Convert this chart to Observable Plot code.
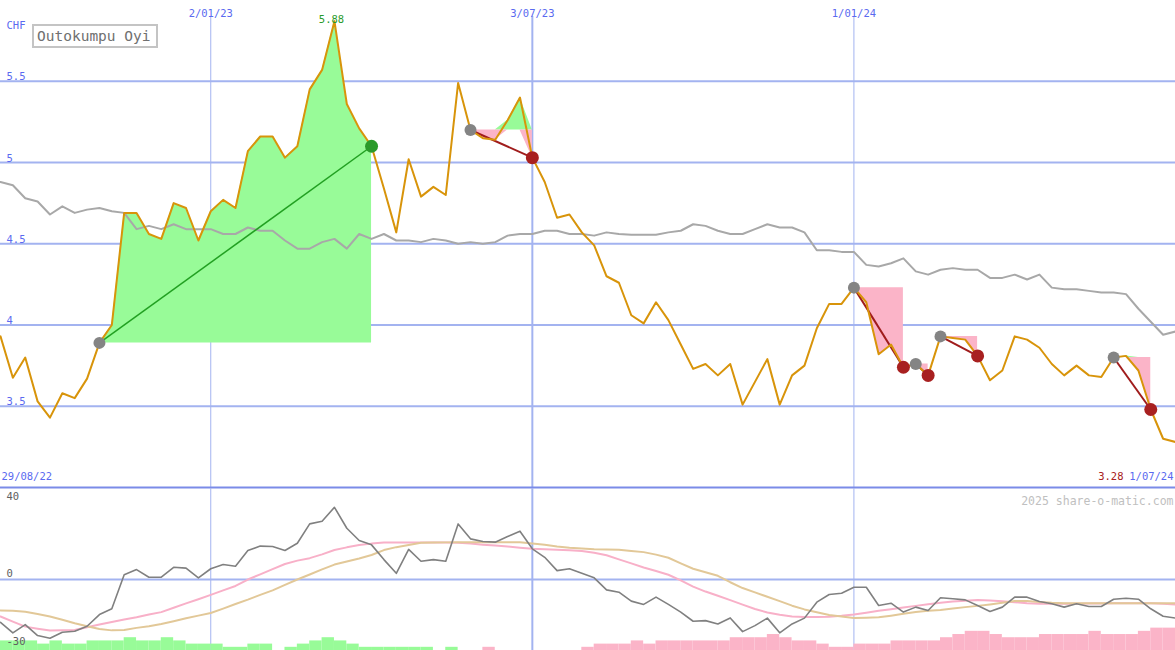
<!DOCTYPE html>
<html><head><meta charset="utf-8">
<script src="https://cdn.jsdelivr.net/npm/d3@7"></script>
<script src="https://cdn.jsdelivr.net/npm/@observablehq/plot@0.6"></script>
<style>
html,body{margin:0;padding:0;background:#fff;}
#chart{position:relative;width:1175px;height:650px;overflow:hidden;background:#fff;}
#chart svg{position:absolute;left:0;display:block;overflow:hidden;}
#legend{position:absolute;left:32px;top:24px;width:126px;height:24px;box-sizing:border-box;border:2px solid #c4c4c4;
 font:14.5px "DejaVu Sans Mono",monospace;color:#707070;line-height:20px;padding-left:3px;background:#fff;}
</style></head>
<body><div id="chart"><div id="legend">Outokumpu Oyi</div></div>
<script>
// ---- data ----
const dates = d3.utcMonday.range(new Date(Date.UTC(2022,8,5)), new Date(Date.UTC(2024,6,2)));
const price = [3.93,3.675,3.80,3.53,3.43,3.58,3.55,3.67,3.89,4.00,
 4.69,4.69,4.56,4.53,4.75,4.72,4.52,4.70,4.77,4.72,
 5.07,5.16,5.16,5.03,5.10,5.45,5.57,5.87,5.36,5.21,
 5.10,4.84,4.57,5.02,4.79,4.85,4.80,5.49,5.20,5.15,
 5.14,5.26,5.40,5.03,4.88,4.66,4.68,4.57,4.49,4.30,
 4.26,4.06,4.01,4.14,4.03,3.88,3.73,3.76,3.69,3.76,
 3.51,3.65,3.79,3.51,3.69,3.75,3.98,4.13,4.13,4.23,
 4.14,3.82,3.88,3.74,3.76,3.69,3.93,3.92,3.91,3.81,
 3.66,3.72,3.93,3.91,3.86,3.76,3.69,3.75,3.69,3.68,
 3.80,3.81,3.72,3.48,3.30,3.28];
const bench = [4.88,4.86,4.78,4.76,4.68,4.73,4.69,4.71,4.72,4.70,
 4.69,4.59,4.61,4.59,4.62,4.59,4.59,4.59,4.56,4.56,
 4.60,4.58,4.58,4.52,4.47,4.47,4.51,4.53,4.47,4.56,
 4.53,4.56,4.52,4.52,4.51,4.53,4.52,4.50,4.51,4.50,
 4.51,4.55,4.56,4.56,4.58,4.58,4.56,4.56,4.55,4.57,
 4.56,4.555,4.555,4.555,4.57,4.58,4.62,4.61,4.58,4.56,
 4.56,4.59,4.62,4.60,4.60,4.57,4.46,4.46,4.45,4.45,
 4.37,4.36,4.38,4.41,4.33,4.31,4.34,4.35,4.34,4.34,
 4.29,4.29,4.31,4.28,4.31,4.23,4.22,4.22,4.21,4.20,
 4.20,4.19,4.10,4.02,3.94,3.96];
const momentum = [-20.6,-25.7,-21.7,-27.0,-28.3,-25.4,-24.9,-22.5,-16.9,-14.1,
 2.3,4.8,1.1,1.1,5.9,5.5,0.8,5.2,7.2,6.4,
 14.0,16.1,15.9,14.0,17.5,26.8,28.1,34.8,24.7,18.8,
 16.7,9.6,3.0,14.5,8.8,9.6,8.8,26.8,19.6,18.3,
 18.0,20.7,23.3,14.8,10.7,4.3,5.2,3.0,0.8,-5.0,
 -6.1,-10.4,-12.0,-8.5,-12.0,-15.7,-20.1,-19.8,-21.4,-18.5,
 -25.1,-22.2,-18.6,-25.7,-21.4,-18.6,-10.9,-7.2,-6.6,-3.7,
 -3.7,-12.5,-11.4,-15.7,-13.3,-14.9,-8.8,-9.3,-9.8,-12.5,
 -15.4,-13.3,-8.5,-8.5,-10.6,-11.7,-13.3,-11.7,-13.0,-13.0,
 -9.5,-9.0,-9.5,-14.1,-17.7,-18.6];
const avgFast = [-17.8,-20.3,-22.7,-23.7,-24.6,-24.5,-24.3,-23.0,-21.7,-20.5,
 -19.3,-18.2,-16.9,-15.7,-13.6,-11.5,-9.5,-7.4,-5.2,-3.1,
 0.0,2.5,5.0,7.5,9.1,10.3,12.1,14.2,15.5,16.6,
 17.3,17.8,17.8,17.8,17.8,17.8,17.8,17.7,17.3,16.8,
 16.4,15.9,15.3,14.8,14.6,14.3,14.1,13.7,12.9,11.7,
 9.7,7.8,5.8,4.1,2.3,-0.4,-3.4,-5.8,-7.8,-9.9,
 -12.1,-14.2,-15.9,-17.0,-17.8,-18.0,-18.1,-17.9,-17.5,-16.9,
 -16.0,-15.1,-14.3,-13.5,-12.7,-11.9,-11.2,-10.6,-10.2,-9.9,
 -10.1,-10.5,-10.9,-11.4,-11.7,-11.7,-11.7,-11.7,-11.6,-11.5,
 -11.4,-11.4,-11.4,-11.4,-11.7,-12.0];
const avgSlow = [-14.9,-15.1,-15.5,-16.6,-17.8,-19.4,-21.1,-22.5,-23.8,-24.5,
 -24.3,-23.3,-22.5,-21.4,-20.1,-18.7,-17.4,-16.1,-14.0,-11.8,
 -9.7,-7.4,-5.2,-2.6,0.0,2.4,4.9,7.2,8.7,10.1,
 11.8,14.2,15.6,16.6,17.7,17.8,17.9,18.0,18.0,18.0,
 18.0,18.0,18.0,17.4,16.7,15.9,15.3,15.0,14.6,14.5,
 14.4,13.8,13.2,12.0,10.5,7.8,5.2,3.5,1.8,-1.3,
 -4.1,-6.2,-8.3,-10.4,-12.6,-14.4,-15.8,-17.1,-17.8,-18.5,
 -18.4,-18.2,-17.4,-16.5,-15.6,-15.1,-14.7,-14.0,-13.3,-12.7,
 -12.0,-11.2,-10.4,-10.4,-10.8,-11.2,-11.4,-11.4,-11.4,-11.4,
 -11.4,-11.4,-11.4,-11.4,-11.4,-11.4];
// weekly signal strength bars (between consecutive dates); + green, - pink
const signal = [3,3,3,2,3,2,2,3,3,3,
 4,3,3,4,3,2,2,2,1,1,
 2,2,0,1,2,3,4,3,2,1,
 1,1,1,1,1,0,1,0,0,-1,
 0,0,0,0,0,0,0,-1,-2,-2,
 -2,-3,-2,-3,-3,-3,-3,-3,-3,-4,
 -4,-4,-5,-4,-3,-3,-2,-1,-1,-2,
 -2,-2,-3,-3,-3,-3,-4,-5,-6,-6,
 -5,-4,-4,-4,-5,-5,-5,-5,-6,-5,
 -5,-5,-6,-7,-7];
const tradeEntry = ["2022-10-31","2023-05-29","2024-01-01","2024-02-05","2024-02-19","2024-05-27"];
const tradeExit  = ["2023-04-03","2023-07-03","2024-01-29","2024-02-12","2024-03-11","2024-06-17"];
const priceTicks = [3.5,4,4.5,5,5.5];
const gridDates = ["2023-01-02","2023-07-03","2024-01-01"];
const lowerTicks = [40,-30];
const peakLabel = "5.88";
const startLabel = "29/08/22";
const unitLabel = "CHF";
const credit = "2025 share-o-matic.com";

// ---- build ----
const parse = d3.utcParse("%Y-%m-%d");
const fmtDate = d3.utcFormat("%-d/%m/%y");
const rows = dates.map((d,i)=>({date:d, price:price[i], bench:bench[i], mom:momentum[i], fast:avgFast[i], slow:avgSlow[i]}));
const idx = s => dates.findIndex(d => +d === +parse(s));
const trades = tradeEntry.map((s,t)=>{
  const i0 = idx(s), i1 = idx(tradeExit[t]);
  return {t, i0, i1, d0:dates[i0], d1:dates[i1], p0:price[i0], p1:price[i1], win: price[i1] > price[i0]};
});
const fillRows = trades.flatMap(tr => d3.range(tr.i0, tr.i1+1).map(k => ({
  t: tr.t, date: dates[k], base: tr.p0, hi: Math.max(price[k], tr.p0), lo: Math.min(price[k], tr.p0)})));
const gDates = gridDates.map(parse);
const bars = signal.map((v,k)=>({d0:dates[k], d1:dates[k+1], v})).filter(b => b.v !== 0 && b.d1);
const peak = rows.reduce((a,b)=> b.price > a.price ? b : a);
const last = rows[rows.length-1];

const BLUE = "#5a6af0", GRID = "#a3b3f0", FONT = "DejaVu Sans Mono";
const GREENF = "#98fb98", PINKF = "#fbb4c8";
const xScale = {type:"utc", domain:[dates[0], dates[dates.length-1]], range:[0,1175]};

const topPlot = Plot.plot({
  width:1175, height:489, marginTop:0, marginBottom:2, marginLeft:0, marginRight:0,
  style:{background:"transparent", fontFamily:FONT},
  x:{...xScale, axis:null},
  y:{domain:[3, 5.997], axis:null},
  marks:[
    Plot.ruleY(priceTicks, {stroke:GRID, strokeWidth:2}),
    Plot.ruleX(gDates, {x:d=>d, stroke:GRID, strokeWidth:d=> d.getUTCMonth()===6 ? 2 : 1, insetTop:16}),
    Plot.areaY(fillRows, {x:"date", y1:"base", y2:"hi", z:"t", fill:GREENF}),
    Plot.areaY(fillRows, {x:"date", y1:"base", y2:"lo", z:"t", fill:PINKF}),
    Plot.lineY(rows, {x:"date", y:"bench", stroke:"#a8a8a8", strokeWidth:2}),
    Plot.link(trades, {x1:"d0", y1:"p0", x2:"d1", y2:"p1", stroke:d=> d.win ? "#22a022" : "#a01c1c", strokeWidth:d=> d.win ? 1.5 : 2}),
    Plot.lineY(rows, {x:"date", y:"price", stroke:"#d8940a", strokeWidth:2}),
    Plot.dot(trades, {x:"d0", y:"p0", r:6, fill:"#848484"}),
    Plot.dot(trades, {x:"d1", y:"p1", r:6.5, fill:d=> d.win ? "#2a9a2a" : "#a82020"}),
    Plot.ruleY([3], {stroke:"#7b8be8", strokeWidth:2}),
    Plot.text(priceTicks, {y:d=>d, text:d=>String(d), frameAnchor:"left", textAnchor:"start", lineAnchor:"bottom", dx:6, dy:-1, fill:BLUE, fontSize:10.5, fontFamily:FONT}),
    Plot.text(gDates, {x:d=>d, text:(d,i)=>fmtDate(d), frameAnchor:"top", dy:9, fill:BLUE, fontSize:10.5, fontFamily:FONT}),
    Plot.text([unitLabel], {text:d=>d, frameAnchor:"top-left", textAnchor:"start", dx:6, dy:21, fill:BLUE, fontSize:10.5, fontFamily:FONT}),
    Plot.text([peak], {x:"date", y:"price", text:()=>peakLabel, dy:-2, dx:-3, fill:"#2a9a2a", fontSize:10.5, fontFamily:FONT}),
    Plot.text([startLabel], {text:d=>d, frameAnchor:"bottom-left", textAnchor:"start", dx:1, dy:-8, fill:BLUE, fontSize:10.5, fontFamily:FONT}),
    Plot.text([last], {text:d=>fmtDate(d.date), frameAnchor:"bottom-right", textAnchor:"end", dx:-2, dy:-8, fill:BLUE, fontSize:10.5, fontFamily:FONT}),
    Plot.text([last], {text:d=>d3.format(".2f")(d.price), frameAnchor:"bottom-right", textAnchor:"end", dx:-52, dy:-8, fill:"#a82020", fontSize:10.5, fontFamily:FONT})
  ]
});
topPlot.style.top = "0px";

const yMin = -34.2;
const bottomPlot = Plot.plot({
  width:1175, height:162, marginTop:0, marginBottom:0, marginLeft:0, marginRight:0,
  style:{background:"transparent", fontFamily:FONT},
  x:{...xScale, axis:null},
  y:{domain:[yMin, 43.86], axis:null},
  marks:[
    Plot.ruleY([0], {stroke:GRID, strokeWidth:2}),
    Plot.ruleX(gDates, {x:d=>d, stroke:GRID, strokeWidth:d=> d.getUTCMonth()===6 ? 2 : 1}),
    Plot.rect(bars, {x1:"d0", x2:"d1", y1:yMin, y2:d=> yMin + Math.abs(d.v)*1.54, fill:d=> d.v > 0 ? GREENF : PINKF}),
    Plot.lineY(rows, {x:"date", y:"fast", stroke:"#f8b0c8", strokeWidth:2}),
    Plot.lineY(rows, {x:"date", y:"slow", stroke:"#e2c898", strokeWidth:2}),
    Plot.lineY(rows, {x:"date", y:"mom", stroke:"#808080", strokeWidth:1.6}),
    Plot.text(lowerTicks, {y:d=>d, text:d=>String(d), frameAnchor:"left", textAnchor:"start", dx:6, fill:"#606060", fontSize:10.5, fontFamily:FONT}),
    Plot.text([0], {y:d=>d, text:d=>String(d), frameAnchor:"left", textAnchor:"start", dx:6, dy:-6, fill:"#606060", fontSize:10.5, fontFamily:FONT}),
    Plot.text([credit], {text:d=>d, frameAnchor:"top-right", textAnchor:"end", dx:-2, dy:8, fill:"#c0c0c0", fontSize:11.5, fontFamily:FONT})
  ]
});
bottomPlot.style.top = "488px";

const chart = document.getElementById("chart");
chart.insertBefore(bottomPlot, chart.firstChild);
chart.insertBefore(topPlot, chart.firstChild);
</script>
</body></html>
